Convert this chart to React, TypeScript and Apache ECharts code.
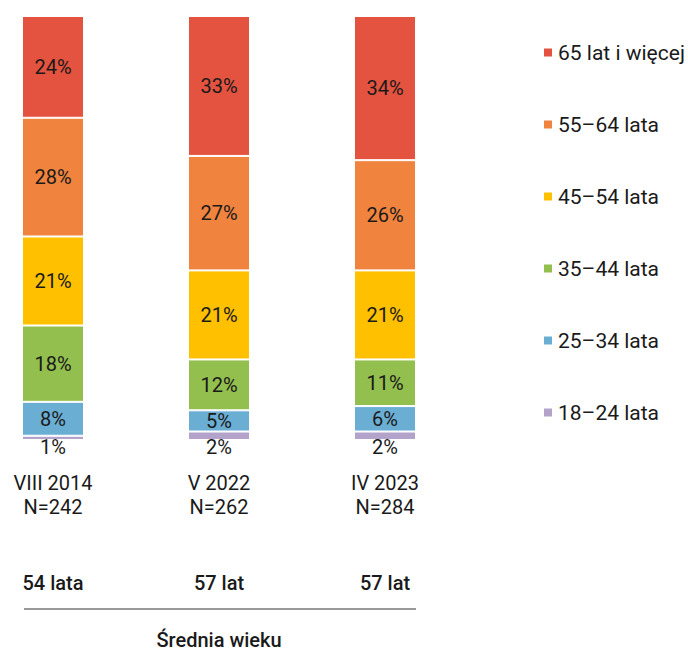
import React, { useEffect, useRef } from "react";
import * as echarts from "echarts";

const categories = ["VIII 2014\nN=242", "V 2022\nN=262", "IV 2023\nN=284"];
const averageAge = ["54 lata", "57 lat", "57 lat"];
const seriesNames = ["18–24 lata", "25–34 lata", "35–44 lata", "45–54 lata", "55–64 lata", "65 lat i więcej"];
const age18_24 = [1, 2, 2];
const age25_34 = [8, 5, 6];
const age35_44 = [18, 12, 11];
const age45_54 = [21, 21, 21];
const age55_64 = [28, 27, 26];
const age65plus = [24, 33, 34];
const colors = ["#B3A2C9", "#6BAED4", "#93BF4E", "#FFC000", "#F0843F", "#E4533F"];

const FONT = "Roboto";
const TXT = "#1a1a1a";
const W = 688;
const H = 652;

export default function App() {
  const ref = useRef<HTMLDivElement>(null);
  useEffect(() => {
    const chart = echarts.init(ref.current!, null, { renderer: "svg", width: W, height: H });
    const values = [age18_24, age25_34, age35_44, age45_54, age55_64, age65plus];
    const series = values.map((v, i) => ({
      name: seriesNames[i],
      type: "bar",
      stack: "total",
      barWidth: 62,
      clip: false,
      data: v,
      itemStyle: { color: colors[i], borderColor: "#fff", borderWidth: 1 },
      label: {
        show: true,
        position: i === 0 ? "bottom" : "inside",
        distance: i === 0 ? -3 : 5,
        formatter: "{c}%",
        color: TXT,
        fontSize: 20,
        fontFamily: FONT,
      },
    }));
    chart.setOption({
      animation: false,
      textStyle: { fontFamily: FONT },
      grid: { left: 53, right: 303, top: 16, bottom: 212, containLabel: false, outerBoundsMode: "none" },
      legend: {
        orient: "vertical",
        left: 537,
        top: 37,
        itemWidth: 10,
        itemHeight: 10,
        itemGap: 51,
        icon: "rect",
        data: [...seriesNames].reverse(),
        textStyle: { fontSize: 21, lineHeight: 21, color: TXT, fontFamily: FONT },
      },
      xAxis: [
        {
          type: "category",
          data: categories,
          boundaryGap: false,
          axisLine: { show: false },
          axisTick: { show: false },
          axisLabel: {
            margin: 31,
            fontSize: 20,
            lineHeight: 24,
            color: TXT,
            fontFamily: FONT,
          },
        },
        {
          type: "category",
          data: averageAge,
          position: "bottom",
          offset: 133,
          boundaryGap: false,
          axisLine: { show: false },
          axisTick: { show: false },
          axisLabel: {
            margin: 0,
            fontSize: 20,
            lineHeight: 20,
            fontWeight: 500,
            color: TXT,
            fontFamily: FONT,
          },
          name: "Średnia wieku",
          nameLocation: "middle",
          nameGap: 57,
          nameTextStyle: { fontSize: 20, lineHeight: 20, fontWeight: 500, color: TXT, fontFamily: FONT },
        },
      ],
      yAxis: { type: "value", min: 0, max: 100, show: false },
      graphic: [
        {
          type: "line",
          shape: { x1: 24, y1: 609, x2: 416, y2: 609 },
          style: { stroke: "#999999", lineWidth: 2 },
        },
      ],
      series,
    });
    return () => chart.dispose();
  }, []);
  return (
    <div
      ref={ref}
      style={{ position: "fixed", left: 0, top: 0, width: W, height: H, background: "#fff" }}
    />
  );
}
